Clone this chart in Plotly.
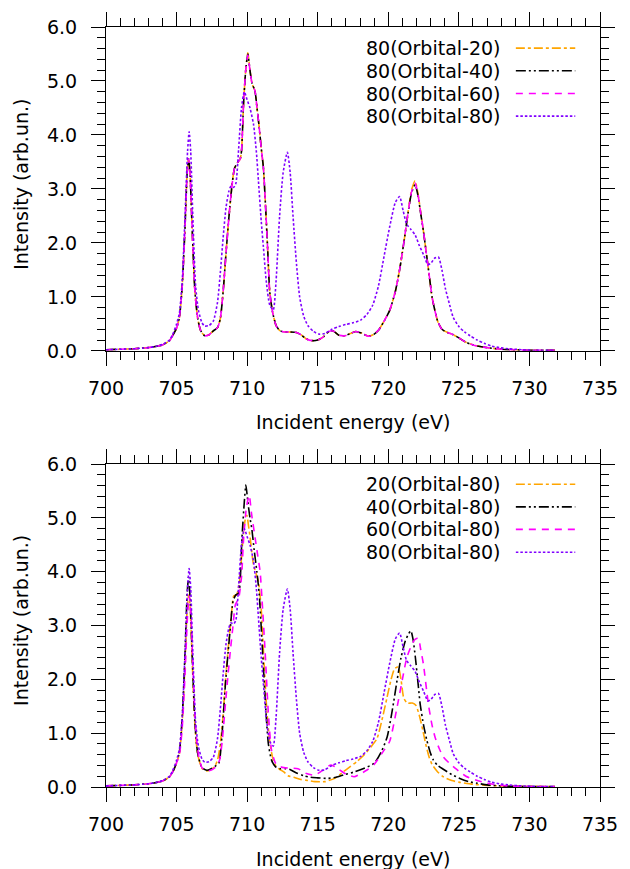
import plotly.graph_objects as go

# ---------------- data ----------------
# Top panel: the three "80(Orbital-xx)" curves share one energy grid
E_top = [700.0, 701.0, 702.0, 703.0, 703.5, 704.0, 704.5, 704.8, 705.0, 705.2, 705.4, 705.6,
         705.75, 705.85, 705.95, 706.1, 706.3, 706.5, 706.7, 707.0, 707.3, 707.6, 707.9, 708.1,
         708.3, 708.5, 708.7, 708.9, 709.1, 709.3, 709.5, 709.6, 709.75, 709.9, 710.05, 710.2,
         710.35, 710.55, 710.7, 710.85, 711.0, 711.15, 711.3, 711.45, 711.6, 711.8, 712.05, 712.3,
         712.6, 713.0, 713.5, 713.8, 714.2, 714.6, 715.0, 715.4, 715.8, 716.1, 716.5, 716.9,
         717.3, 717.7, 718.1, 718.6, 719.0, 719.3, 719.7, 720.1, 720.5, 720.8, 721.1, 721.4,
         721.65, 721.9, 722.1, 722.3, 722.5, 722.7, 722.9, 723.1, 723.3, 723.5, 723.8, 724.2,
         724.6, 725.0, 725.5, 726.0, 726.5, 727.0, 728.0, 729.0, 730.0, 731.8]
I_80_orb20 = [0.02, 0.03, 0.04, 0.06, 0.08, 0.11, 0.19, 0.32, 0.42, 0.62, 1.2, 2.3,
              3.3, 3.57, 3.3, 2.3, 1.1, 0.6, 0.38, 0.28, 0.30, 0.37, 0.43, 0.6,
              1.1, 1.8, 2.45, 3.0, 3.38, 3.48, 3.55, 3.7, 4.6, 5.2, 5.52, 5.2,
              4.95, 4.82, 4.5, 4.15, 3.75, 3.4, 2.7, 1.9, 1.1, 0.72, 0.47, 0.38,
              0.35, 0.35, 0.34, 0.30, 0.22, 0.19, 0.20, 0.26, 0.36, 0.37, 0.29, 0.28,
              0.32, 0.36, 0.33, 0.27, 0.31, 0.38, 0.55, 0.75, 1.1, 1.5, 2.0, 2.57,
              2.98, 3.15, 2.92, 2.56, 2.2, 1.8, 1.4, 1.0, 0.75, 0.55, 0.40, 0.34,
              0.30, 0.24, 0.16, 0.11, 0.08, 0.06, 0.03, 0.02, 0.01, 0.01]
I_80_orb40 = [0.02, 0.03, 0.04, 0.06, 0.08, 0.11, 0.19, 0.32, 0.42, 0.62, 1.2, 2.3,
              3.3, 3.56, 3.3, 2.3, 1.1, 0.6, 0.38, 0.28, 0.30, 0.37, 0.43, 0.6,
              1.1, 1.8, 2.45, 3.0, 3.38, 3.48, 3.55, 3.7, 4.6, 5.2, 5.50, 5.2,
              4.95, 4.82, 4.5, 4.15, 3.75, 3.4, 2.7, 1.9, 1.1, 0.72, 0.47, 0.38,
              0.35, 0.35, 0.34, 0.30, 0.22, 0.19, 0.20, 0.26, 0.36, 0.37, 0.29, 0.28,
              0.32, 0.36, 0.33, 0.27, 0.31, 0.38, 0.55, 0.75, 1.1, 1.5, 2.0, 2.55,
              2.93, 3.08, 2.88, 2.54, 2.2, 1.8, 1.4, 1.0, 0.75, 0.55, 0.40, 0.34,
              0.30, 0.24, 0.16, 0.11, 0.08, 0.06, 0.03, 0.02, 0.01, 0.01]
I_80_orb60 = [0.02, 0.03, 0.04, 0.06, 0.08, 0.11, 0.19, 0.32, 0.42, 0.62, 1.2, 2.3,
              3.3, 3.56, 3.3, 2.3, 1.1, 0.6, 0.38, 0.28, 0.30, 0.37, 0.43, 0.6,
              1.1, 1.8, 2.45, 3.0, 3.38, 3.48, 3.55, 3.7, 4.6, 5.2, 5.48, 5.2,
              4.95, 4.82, 4.5, 4.15, 3.75, 3.4, 2.7, 1.9, 1.1, 0.72, 0.47, 0.38,
              0.35, 0.35, 0.34, 0.30, 0.22, 0.19, 0.20, 0.26, 0.36, 0.37, 0.29, 0.28,
              0.32, 0.36, 0.33, 0.27, 0.31, 0.38, 0.55, 0.75, 1.1, 1.5, 2.0, 2.56,
              2.95, 3.11, 2.9, 2.55, 2.2, 1.8, 1.4, 1.0, 0.75, 0.55, 0.40, 0.34,
              0.30, 0.24, 0.16, 0.11, 0.08, 0.06, 0.03, 0.02, 0.01, 0.01]

# 80(Orbital-80): appears in both panels
E_80_80 = [700.0, 701.0, 702.0, 703.0, 703.5, 704.0, 704.5, 704.8, 705.0, 705.2, 705.4, 705.6,
           705.78, 705.89, 706.0, 706.15, 706.35, 706.55, 706.8, 707.0, 707.3, 707.6, 707.9, 708.1,
           708.3, 708.5, 708.7, 708.85, 709.05, 709.2, 709.4, 709.6, 709.8, 710.0, 710.2, 710.45,
           710.65, 710.8, 711.0, 711.15, 711.35, 711.6, 711.85, 712.05, 712.3, 712.55, 712.85, 713.05,
           713.25, 713.5, 713.72, 714.0, 714.3, 714.7, 715.1, 715.5, 716.0, 716.5, 717.0, 717.5,
           718.05, 718.5, 718.9, 719.3, 719.7, 720.1, 720.5, 720.8, 721.05, 721.3, 721.6, 721.9,
           722.2, 722.5, 722.8, 723.0, 723.3, 723.55, 723.8, 724.05, 724.35, 724.6, 725.0, 725.4,
           725.8, 726.3, 726.8, 727.3, 727.9, 728.5, 729.5, 730.5, 731.8]
I_80_80 = [0.02, 0.03, 0.04, 0.06, 0.08, 0.12, 0.20, 0.35, 0.50, 0.70, 1.3, 2.5,
           3.7, 4.06, 3.7, 2.5, 1.2, 0.75, 0.52, 0.46, 0.47, 0.55, 0.9, 1.45,
           2.1, 2.65, 2.95, 3.05, 3.03, 3.1, 3.75, 4.5, 4.80, 4.65, 4.5, 4.2,
           3.7, 3.15, 2.4, 1.93, 1.3, 0.85, 0.76, 1.3, 2.5, 3.3, 3.68, 3.3,
           2.5, 1.6, 1.0, 0.65, 0.47, 0.36, 0.31, 0.32, 0.40, 0.45, 0.49, 0.52,
           0.57, 0.68, 0.85, 1.2, 1.75, 2.3, 2.75, 2.86, 2.6, 2.35, 2.25, 2.15,
           1.95, 1.78, 1.6, 1.62, 1.72, 1.74, 1.5, 1.15, 0.85, 0.62, 0.45, 0.35,
           0.28, 0.20, 0.14, 0.09, 0.06, 0.04, 0.02, 0.01, 0.01]

# Bottom panel
E_20_80 = [700.0, 701.0, 702.0, 703.0, 703.5, 704.0, 704.5, 704.8, 705.0, 705.2, 705.4, 705.6,
           705.75, 705.87, 705.97, 706.1, 706.3, 706.5, 706.8, 707.1, 707.4, 707.7, 707.9, 708.1,
           708.3, 708.5, 708.7, 708.9, 709.05, 709.25, 709.45, 709.7, 709.85, 709.98, 710.1, 710.22,
           710.45, 710.65, 710.8, 711.0, 711.2, 711.4, 711.6, 711.8, 712.05, 712.3, 712.6, 712.9,
           713.3, 713.8, 714.3, 714.8, 715.5, 716.2, 716.8, 717.3, 717.8, 718.3, 718.75, 719.2,
           719.6, 719.9, 720.2, 720.45, 720.7, 720.9, 721.1, 721.35, 721.7, 721.95, 722.2, 722.45,
           722.65, 722.9, 723.1, 723.5, 723.9, 724.5, 725.0, 726.0, 727.0, 728.5, 731.8]
I_20_80 = [0.02, 0.03, 0.04, 0.06, 0.08, 0.11, 0.19, 0.32, 0.45, 0.62, 1.2, 2.3,
           3.3, 3.6, 3.3, 2.4, 1.15, 0.6, 0.35, 0.30, 0.32, 0.38, 0.5, 0.8,
           1.35, 2.1, 2.7, 3.25, 3.55, 3.57, 3.8, 4.6, 4.95, 5.05, 4.85, 4.62,
           4.13, 3.95, 3.82, 3.3, 2.3, 1.4, 0.85, 0.55, 0.38, 0.33, 0.28, 0.21,
           0.18, 0.14, 0.12, 0.10, 0.10, 0.16, 0.28, 0.38, 0.48, 0.60, 0.74, 0.9,
           1.3, 1.65, 2.0, 2.2, 2.23, 2.0, 1.65, 1.56, 1.56, 1.52, 1.33, 1.05,
           0.8, 0.55, 0.42, 0.28, 0.19, 0.12, 0.09, 0.05, 0.03, 0.015, 0.01]

E_40_80 = [700.0, 701.0, 702.0, 703.0, 703.5, 704.0, 704.5, 704.8, 705.0, 705.2, 705.4, 705.6,
           705.75, 705.85, 705.95, 706.1, 706.3, 706.5, 706.8, 707.15, 707.45, 707.7, 707.99, 708.2,
           708.46, 708.65, 708.81, 709.0, 709.2, 709.4, 709.63, 709.8, 709.91, 710.05, 710.2, 710.33,
           710.5, 710.69, 710.85, 711.04, 711.27, 711.5, 711.73, 712.0, 712.32, 712.7, 713.0, 713.5,
           714.0, 714.5, 715.0, 715.7, 716.3, 716.9, 717.6, 718.3, 719.0, 719.5, 719.92, 720.3,
           720.62, 720.9, 721.2, 721.45, 721.6, 721.75, 721.91, 722.1, 722.26, 722.5, 722.73, 723.0,
           723.2, 723.5, 723.9, 724.5, 725.07, 725.7, 726.3, 727.0, 728.0, 729.5, 731.8]
I_40_80 = [0.02, 0.03, 0.04, 0.06, 0.08, 0.11, 0.19, 0.32, 0.45, 0.65, 1.3, 2.5,
           3.6, 3.9, 3.55, 2.5, 1.2, 0.62, 0.36, 0.31, 0.34, 0.38, 0.44, 0.9,
           1.91, 2.5, 2.96, 3.45, 3.57, 3.6, 4.62, 5.3, 5.61, 5.3, 5.0, 4.8,
           4.4, 4.0, 3.6, 2.77, 1.67, 0.81, 0.5, 0.38, 0.34, 0.34, 0.33, 0.26,
           0.21, 0.18, 0.17, 0.16, 0.18, 0.23, 0.28, 0.35, 0.44, 0.65, 0.93, 1.45,
           1.98, 2.4, 2.71, 2.85, 2.9, 2.75, 2.43, 1.95, 1.54, 1.15, 0.87, 0.62,
           0.50, 0.40, 0.33, 0.23, 0.16, 0.10, 0.07, 0.04, 0.02, 0.01, 0.01]

E_60_80 = [700.0, 701.0, 702.0, 703.0, 703.5, 704.0, 704.5, 704.8, 705.0, 705.2, 705.4, 705.6,
           705.78, 705.9, 706.0, 706.15, 706.35, 706.55, 706.8, 707.18, 707.5, 707.8, 708.05, 708.25,
           708.46, 708.65, 708.81, 709.0, 709.17, 709.4, 709.6, 709.75, 709.95, 710.15, 710.3, 710.57,
           710.75, 710.92, 711.05, 711.27, 711.5, 711.73, 712.0, 712.2, 712.6, 713.0, 713.6, 714.2,
           714.78, 715.3, 715.94, 716.53, 717.0, 717.58, 718.0, 718.52, 719.0, 719.69, 720.1, 720.62,
           721.0, 721.32, 721.79, 722.0, 722.14, 722.3, 722.49, 722.84, 723.1, 723.31, 723.6, 723.9,
           724.3, 724.83, 725.5, 726.2, 727.0, 727.64, 728.5, 730.0, 731.8]
I_60_80 = [0.02, 0.03, 0.04, 0.06, 0.08, 0.11, 0.19, 0.32, 0.45, 0.60, 1.1, 2.1,
           3.2, 3.55, 3.3, 2.3, 1.1, 0.6, 0.36, 0.30, 0.32, 0.38, 0.5, 0.9,
           1.54, 2.1, 2.53, 3.0, 3.39, 3.51, 3.9, 4.62, 5.2, 5.42, 5.1, 4.62,
           4.3, 4.0, 3.5, 2.53, 1.38, 0.68, 0.45, 0.39, 0.36, 0.35, 0.34, 0.25,
           0.22, 0.30, 0.41, 0.32, 0.24, 0.19, 0.24, 0.32, 0.42, 0.68, 0.85, 1.48,
           2.0, 2.41, 2.71, 2.76, 2.76, 2.55, 2.28, 1.54, 1.15, 0.93, 0.72, 0.56,
           0.45, 0.33, 0.20, 0.13, 0.07, 0.04, 0.02, 0.01, 0.01]

x_title = "Incident energy (eV)"
y_title = "Intensity (arb.un.)"

top_series = [
    ("80(Orbital-20)", E_top, I_80_orb20),
    ("80(Orbital-40)", E_top, I_80_orb40),
    ("80(Orbital-60)", E_top, I_80_orb60),
    ("80(Orbital-80)", E_80_80, I_80_80),
]
bottom_series = [
    ("20(Orbital-80)", E_20_80, I_20_80),
    ("40(Orbital-80)", E_40_80, I_40_80),
    ("60(Orbital-80)", E_60_80, I_60_80),
    ("80(Orbital-80)", E_80_80, I_80_80),
]

# ---------------- styles ----------------
colors = ["#ffa500", "#000000", "#ff00ff", "#8000ff"]
dashes = ["9px,3px,3px,3px", "10px,3px,2px,3px,2px,3px", "7px,6px", "2.5px,2px"]
LW = 1.6
FONT = "DejaVu Sans"
FS = 19

W, H = 630, 869
L, R, T, B = 106, 25, 22, 82
PW, PH = W - L - R, H - T - B


def px(x):
    return (x - L) / PW


def py(y):
    return (H - B - y) / PH


fig = go.Figure()
for (name, e, v), c, d in zip(top_series, colors, dashes):
    fig.add_trace(go.Scatter(x=e, y=v, name=name, mode="lines", xaxis="x", yaxis="y",
                             line=dict(color=c, width=LW, dash=d, shape="spline", smoothing=0.6),
                             showlegend=False, hoverinfo="skip"))
for (name, e, v), c, d in zip(bottom_series, colors, dashes):
    fig.add_trace(go.Scatter(x=e, y=v, name=name, mode="lines", xaxis="x2", yaxis="y2",
                             line=dict(color=c, width=LW, dash=d, shape="spline", smoothing=0.6),
                             showlegend=False, hoverinfo="skip"))

tickfont = dict(family=FONT, size=FS, color="black")
xcommon = dict(range=[700, 735], tick0=700, dtick=5, ticks="outside", ticklen=14, tickwidth=1,
               tickcolor="black", showline=True, linecolor="black", linewidth=1, mirror="ticks",
               showgrid=False, zeroline=False, ticklabelstandoff=6, tickfont=tickfont,
               minor=dict(dtick=1, ticks="outside", ticklen=8, tickwidth=1, tickcolor="black",
                          showgrid=False))
ycommon = dict(range=[0, 6], tick0=0, dtick=1, tickformat=".1f", ticks="outside", ticklen=14,
               tickwidth=1, tickcolor="black", showline=True, linecolor="black", linewidth=1,
               mirror="ticks", showgrid=False, zeroline=False, ticklabelstandoff=10,
               tickfont=tickfont,
               minor=dict(dtick=0.2, ticks="outside", ticklen=8, tickwidth=1, tickcolor="black",
                          showgrid=False))

top_dom = [py(348), 1.0]
bot_dom = [0.0, py(462)]

fig.update_layout(
    width=W, height=H,
    margin=dict(l=L, r=R, t=T, b=B, pad=0),
    paper_bgcolor="white", plot_bgcolor="white",
    font=dict(family=FONT, size=FS, color="black"),
    xaxis=dict(domain=[0, 1], anchor="y", **xcommon),
    yaxis=dict(domain=top_dom, anchor="x", **ycommon),
    xaxis2=dict(domain=[0, 1], anchor="y2", **xcommon),
    yaxis2=dict(domain=bot_dom, anchor="x2", **ycommon),
    showlegend=False,
)

annotations = []
shapes = []
# axis titles
for yc in (420, 859):
    annotations.append(dict(text=x_title, x=px(355.5), y=py(yc), xref="paper", yref="paper",
                            xanchor="center", yanchor="middle", showarrow=False,
                            font=dict(family=FONT, size=FS, color="black")))
for yc in (180, 619):
    annotations.append(dict(text=y_title, x=px(20), y=py(yc), xref="paper", yref="paper",
                            xanchor="center", yanchor="middle", showarrow=False, textangle=-90,
                            font=dict(family=FONT, size=FS, color="black")))
# gnuplot-style key: text right-aligned, sample to its right
for rows, series in (([43.3, 66.0, 89.0, 111.7], top_series),
                     ([482.3, 505.0, 527.7, 550.7], bottom_series)):
    for yrow, (name, _, _), c, d in zip(rows, series, colors, dashes):
        annotations.append(dict(text=name, x=px(507), y=py(yrow), xref="paper", yref="paper",
                                xanchor="right", yanchor="middle", showarrow=False,
                                font=dict(family=FONT, size=FS, color="black")))
        shapes.append(dict(type="line", xref="paper", yref="paper", x0=px(520), x1=px(580),
                           y0=py(yrow), y1=py(yrow), line=dict(color=c, width=LW, dash=d)))

fig.update_layout(annotations=annotations, shapes=shapes)
# remove the default 8px page margin so the figure sits at the window origin
fig.write_html("out.html", config={"displayModeBar": False},
               post_script="document.body.style.margin='0px';")
